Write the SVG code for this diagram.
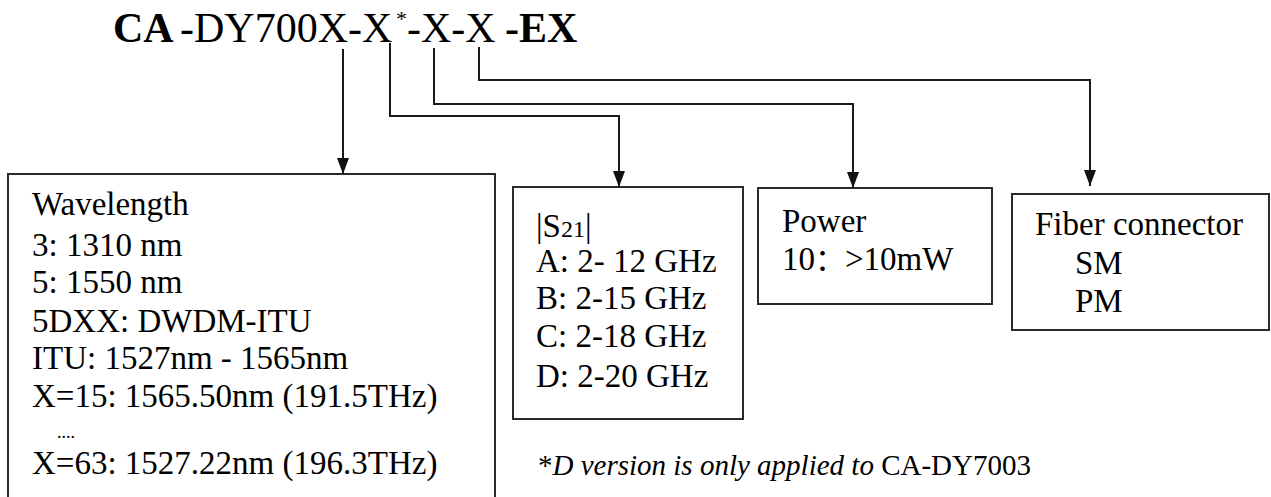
<svg xmlns="http://www.w3.org/2000/svg" width="1271" height="497" viewBox="0 0 1271 497">
<style>
text{font-family:"Liberation Serif","Times New Roman",serif;fill:#000}
.t{font-size:42px}
.b{font-weight:bold}
.n{font-size:33px}
.box{fill:#fff;stroke:#2a2a2a;stroke-width:2}
.c{fill:none;stroke:#1a1a1a;stroke-width:2}
.f{font-size:29px}
</style>
<defs>
<marker id="arr" viewBox="0 0 16 12" refX="16" refY="6" markerWidth="16" markerHeight="12" markerUnits="userSpaceOnUse" orient="auto">
<path d="M0,0 L16,6 L0,12 Z" fill="#111"/>
</marker>
</defs>
<g id="title">
<text class="t" y="42"><tspan class="b" x="113">CA</tspan><tspan x="180">-DY700X-X</tspan><tspan x="396" dy="-16" style="font-size:22px">*</tspan><tspan x="407" dy="16">-X-X</tspan><tspan class="b" x="505">-EX</tspan></text>
</g>
<g id="wavelength">
<rect class="box" x="8" y="174" width="487" height="340"/>
<text class="n" x="32" y="215">Wavelength</text>
<text class="n" x="32" y="256">3: 1310 nm</text>
<text class="n" x="32" y="293">5: 1550 nm</text>
<text class="n" x="32" y="332">5DXX: DWDM-ITU</text>
<text class="n" x="32" y="369">ITU: 1527nm - 1565nm</text>
<text class="n" x="32" y="407">X=15: 1565.50nm (191.5THz)</text>
<text x="57" y="438" style="font-size:18px">....</text>
<text class="n" x="32" y="474">X=63: 1527.22nm (196.3THz)</text>
</g>
<g id="s21">
<rect class="box" x="513" y="187" width="230" height="232"/>
<text class="n" x="536" y="237">|S<tspan style="font-size:24px">21</tspan>|</text>
<text class="n" x="536" y="272">A: 2- 12 GHz</text>
<text class="n" x="536" y="309">B: 2-15 GHz</text>
<text class="n" x="536" y="347">C: 2-18 GHz</text>
<text class="n" x="536" y="387">D: 2-20 GHz</text>
</g>
<g id="power">
<rect class="box" x="758" y="188" width="234" height="116"/>
<text class="n" x="782" y="232">Power</text>
<text class="n" x="782" y="270">10<tspan style="font-family:'Noto Sans CJK SC',sans-serif;font-size:30px">：</tspan>&gt;10mW</text>
</g>
<g id="fiber">
<rect class="box" x="1012" y="194" width="257" height="136"/>
<text class="n" x="1035" y="235">Fiber connector</text>
<text class="n" x="1075" y="274">SM</text>
<text class="n" x="1075" y="312">PM</text>
</g>
<g id="connectors">
<path class="c" d="M343,49 V174" marker-end="url(#arr)"/>
<path class="c" d="M390,43 V116 H619 V187" marker-end="url(#arr)"/>
<path class="c" d="M434,48 V104 H853 V188" marker-end="url(#arr)"/>
<path class="c" d="M479,47 V80 H1090 V186" marker-end="url(#arr)"/>
</g>
<g id="footnote">
<text class="f" x="538" y="475">*<tspan font-style="italic">D version is only applied to</tspan> CA-DY7003</text>
</g>
</svg>
